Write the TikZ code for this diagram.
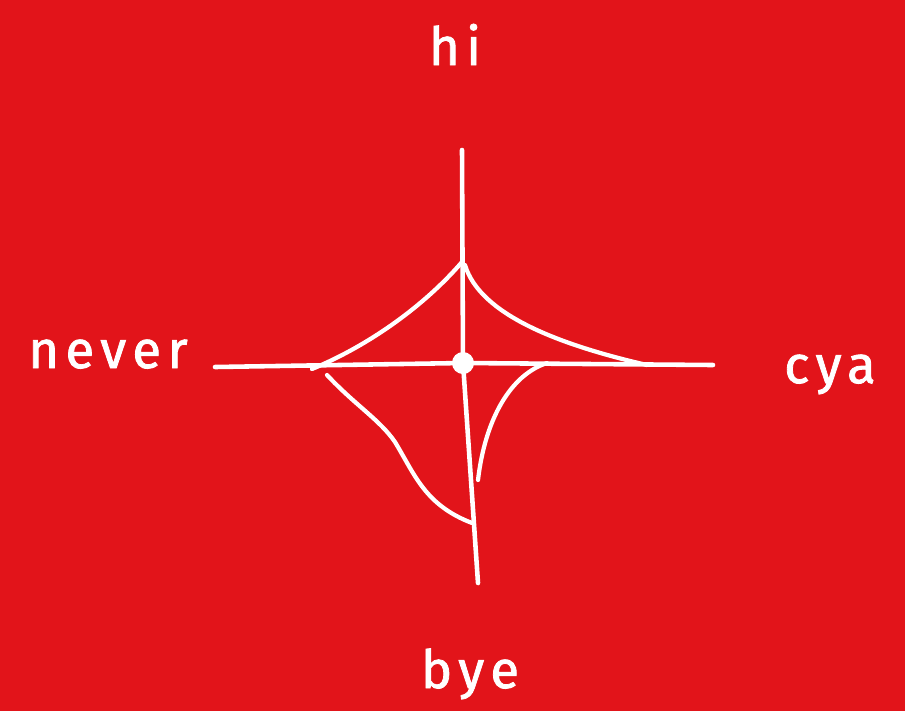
\documentclass[tikz,border=0pt]{standalone}
\usepackage{fontspec}
\newfontfamily\handfont[LetterSpace=12, FakeBold=1.5]{Fira Sans}
\usetikzlibrary{positioning}
\definecolor{posterred}{RGB}{226,20,26}
\tikzset{
  axisline/.style={draw=white, line width=2.6pt, line cap=round},
  starline/.style={draw=white, line width=2.4pt, line cap=round},
  axislabel/.style={text=white, font=\handfont\fontsize{30}{34}\selectfont, inner sep=0pt, anchor=base}
}
\begin{document}
\begin{tikzpicture}[x=0.02cm, y=-0.02cm]
\fill[posterred] (0,0) rectangle (905,711);
\useasboundingbox (0,0) rectangle (905,711);
% axes
\coordinate (up) at (462,150);
\coordinate (down) at (478,583);
\coordinate (west) at (215,367);
\coordinate (east) at (713,365);
\coordinate (mid) at (463,363);
\draw[axisline] (up) -- (mid) -- (down);
\draw[axisline] (west) -- (mid) -- (east);
\fill[white] (mid) circle (11);
% star
\coordinate (ptop) at (462,262);
\coordinate (pleft) at (312,369);
\coordinate (pright) at (647,365);
\coordinate (pbot) at (472,523);
\draw[starline] (ptop) .. controls (425,305) and (370,345) .. (pleft);
\draw[starline] (465,265) .. controls (480,315) and (560,345) .. (pright);
\draw[starline] (327,375) .. controls (355,405) and (380,420) .. (395,442)
  .. controls (415,475) and (425,505) .. (pbot);
\draw[starline] (547,363) .. controls (510,375) and (485,420) .. (478,480);
% labels
\node[axislabel] (hi) at (455,65) {hi};
\node[axislabel] (bye) at (470,688) {bye};
\node[axislabel] (never) at (108,368) {never};
\node[axislabel] (cya) at (830,383) {cya};
\end{tikzpicture}
\end{document}
